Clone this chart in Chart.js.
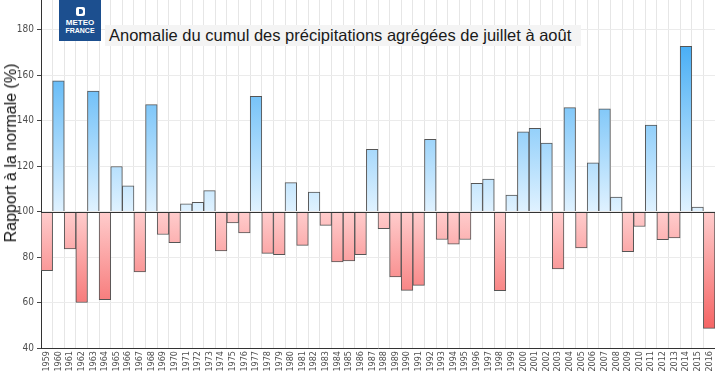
<!DOCTYPE html>
<html>
<head>
<meta charset="utf-8">
<script src="https://cdn.jsdelivr.net/npm/chart.js@4"></script>
<style>
  html, body { margin: 0; padding: 0; background: #fff; }
  #wrap { position: relative; width: 715px; height: 372px; font-family: "Liberation Sans", Arial, sans-serif; }
  #logo { position: absolute; left: 59px; top: 0; width: 42px; height: 41px; background: #1c4f8f; color: #fff; text-align: center; }
  #logo .ico { width: 9px; height: 9px; margin: 7px auto 3px; background: #fff; border-radius: 2px; position: relative; }
  #logo .ico::after { content: ""; position: absolute; left: 3px; top: 2px; width: 4px; height: 5px; background: #1c4f8f; border-radius: 0 3px 3px 0; }
  #logo .t1 { font-size: 8px; font-weight: bold; line-height: 8px; }
  #logo .t2 { font-size: 7px; font-weight: bold; line-height: 8px; }
  #title { position: absolute; left: 105px; top: 25px; height: 21px; padding: 0 10px 0 4px; background: #f4f4f4; color: #1a1a1a; font-size: 16.5px; line-height: 21px; white-space: nowrap; }
  #ytitle { position: absolute; left: 11px; top: 153px; transform: translate(-50%, -50%) rotate(-90deg); font-size: 16px; color: #111; white-space: nowrap; }
</style>
</head>
<body>
<div id="wrap">
  <canvas id="chart" width="715" height="372"></canvas>
  <div id="logo"><div class="ico"></div><div class="t1">METEO</div><div class="t2">FRANCE</div></div>
  <div id="title">Anomalie du cumul des précipitations agrégées de juillet à août</div>
  <div id="ytitle">Rapport à la normale (%)</div>
</div>
<script>
// années et rapport à la normale (%)
const years = [
  '1959', '1960', '1961', '1962', '1963', '1964', '1965', '1966', '1967', '1968',
  '1969', '1970', '1971', '1972', '1973', '1974', '1975', '1976', '1977', '1978',
  '1979', '1980', '1981', '1982', '1983', '1984', '1985', '1986', '1987', '1988',
  '1989', '1990', '1991', '1992', '1993', '1994', '1995', '1996', '1997', '1998',
  '1999', '2000', '2001', '2002', '2003', '2004', '2005', '2006', '2007', '2008',
  '2009', '2010', '2011', '2012', '2013', '2014', '2015', '2016'
];
const ratio = [
  74, 157.5, 83.6, 60, 153, 61.2, 119.8, 111.3, 73.5, 147,
  89.9, 86.3, 103.4, 104, 109.2, 82.7, 95, 90.6, 150.6, 81.6,
  81, 112.7, 85.1, 108.5, 93.9, 77.8, 78.3, 81, 127.4, 92.5,
  71.3, 65.3, 67.5, 131.7, 87.7, 85.7, 87.7, 112.4, 114.3, 65.2,
  107.2, 135, 136.6, 130.1, 74.8, 145.7, 84, 121.4, 145.1, 106.4,
  82.3, 93.4, 138, 87.6, 88.4, 172.6, 102, 48.6
];
const yTicks = [40, 60, 80, 100, 120, 140, 160, 180];
const normal = 100;

const narrow = '"Liberation Sans Narrow", "DejaVu Sans Condensed", "Liberation Sans"';

function barFill(context) {
  const chart = context.chart;
  if (!chart.chartArea) return null;
  const y = chart.scales.y;
  const ctx = chart.ctx;
  const v = context.raw;
  if (v >= normal) {
    const g = ctx.createLinearGradient(0, y.getPixelForValue(normal), 0, y.getPixelForValue(175));
    g.addColorStop(0, '#e0f2ff');
    g.addColorStop(1, '#45adf5');
    return g;
  }
  const g = ctx.createLinearGradient(0, y.getPixelForValue(normal), 0, y.getPixelForValue(45));
  g.addColorStop(0, '#ffcdcd');
  g.addColorStop(1, '#f45d5d');
  return g;
}

const normalLine = {
  id: 'normalLine',
  afterDatasetsDraw(chart) {
    const { ctx, chartArea, scales } = chart;
    const py = Math.round(scales.y.getPixelForValue(normal)) + 0.5;
    ctx.save();
    ctx.strokeStyle = '#333';
    ctx.lineWidth = 1;
    ctx.beginPath();
    ctx.moveTo(chartArea.left, py);
    ctx.lineTo(chartArea.right, py);
    ctx.stroke();
    ctx.restore();
  }
};

new Chart(document.getElementById('chart'), {
  type: 'bar',
  data: {
    labels: years,
    datasets: [{
      data: ratio,
      base: normal,
      backgroundColor: barFill,
      borderColor: '#555',
      borderWidth: 1,
      categoryPercentage: 1,
      barPercentage: 1
    }]
  },
  plugins: [normalLine],
  options: {
    responsive: false,
    animation: false,
    layout: { padding: 0 },
    plugins: { legend: { display: false }, tooltip: { enabled: false }, title: { display: false } },
    scales: {
      x: {
        afterFit: (s) => { s.height = 24; s.paddingLeft = 0; s.paddingRight = 0; },
        grid: { color: '#e6e6e6', drawTicks: false, offset: true },
        border: { color: '#333' },
        ticks: {
          autoSkip: false, minRotation: 90, maxRotation: 90, padding: 3,
          color: '#4d4d4d', font: { family: narrow, size: 9 }
        }
      },
      y: {
        min: 40,
        max: 193,
        afterFit: (s) => { s.width = 41; s.paddingTop = 0; s.paddingBottom = 0; },
        afterBuildTicks: (s) => { s.ticks = yTicks.map((v) => ({ value: v })); },
        grid: { color: '#ebebeb', tickColor: '#444', tickLength: 4 },
        border: { color: '#333' },
        ticks: {
          padding: 3,
          color: '#4d4d4d', font: { family: narrow, size: 10 }
        }
      }
    }
  }
});
</script>
</body>
</html>
